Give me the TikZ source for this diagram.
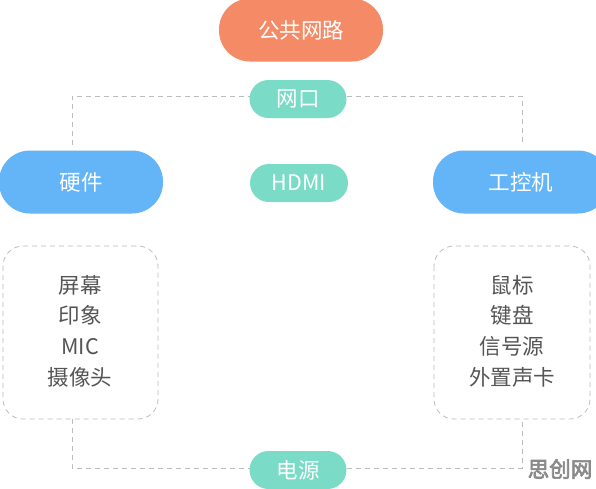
\documentclass[tikz,border=0pt]{standalone}
\usepackage{fontspec}
\setmainfont{Noto Sans CJK SC}
\newfontfamily\wmfont[FakeBold=3]{Noto Sans CJK SC}
\definecolor{orangefill}{HTML}{F58B66}
\definecolor{tealfill}{HTML}{7ADBC7}
\definecolor{bluefill}{HTML}{63B5F7}
\definecolor{dashgray}{HTML}{BDBDBD}
\definecolor{listgray}{HTML}{555555}
\definecolor{wmgray}{HTML}{8A8A8A}
\begin{document}
\begin{tikzpicture}[x=1pt,y=-1pt,
  pill/.style={inner sep=0pt,text=white,font=\fontsize{21.5}{24}\selectfont},
  bigpill/.style={pill,minimum width=164pt,minimum height=63pt,rounded corners=31pt},
  smallpill/.style={pill,minimum width=97pt,minimum height=38pt,rounded corners=19pt},
  dashline/.style={draw=dashgray,line width=0.8pt,dash pattern=on 5pt off 4pt},
  listbox/.style={dashline,rounded corners=20pt},
  listtext/.style={text=listgray,font=\fontsize{21.5}{30.7}\selectfont,align=center}]
\useasboundingbox (0,0) rectangle (596,488);
\fill[white] (0,0) rectangle (596,488);
% connectors (behind)
\coordinate (tl) at (72,145);
\coordinate (tlc) at (72,96);
\coordinate (trc) at (522,96);
\coordinate (tr) at (522,145);
\coordinate (bl) at (72,419);
\coordinate (blc) at (72,468);
\coordinate (brc) at (522,468);
\coordinate (br) at (522,419);
\draw[dashline] (tl) -- (tlc) -- (trc) -- (tr);
\draw[dashline] (bl) -- (blc) -- (brc) -- (br);
% boxes
\draw[listbox] (3,246) rectangle (158,419);
\draw[listbox] (434,246) rectangle (590,419);
\node[listtext] (leftlist) at (80,331) {屏幕\\印象\\MIC\\摄像头};
\node[listtext] (rightlist) at (512,331) {鼠标\\键盘\\信号源\\外置声卡};
% pills
\node[bigpill,fill=orangefill] (pub) at (301,30) {公共网路};
\node[smallpill,fill=tealfill] (wk) at (298,99) {网口};
\node[bigpill,fill=bluefill] (hw) at (81,182) {硬件};
\node[smallpill,fill=tealfill,minimum width=98pt] (hdmi) at (299,183) {HDMI};
\node[bigpill,fill=bluefill,minimum width=176pt] (ipc) at (521,182) {工控机};
\node[smallpill,fill=tealfill] (power) at (298,470) {电源};
% watermark
\node[text=wmgray,font=\wmfont\fontsize{21.5}{24}\selectfont] (wm) at (560,469) {思创网};
\end{tikzpicture}
\end{document}
